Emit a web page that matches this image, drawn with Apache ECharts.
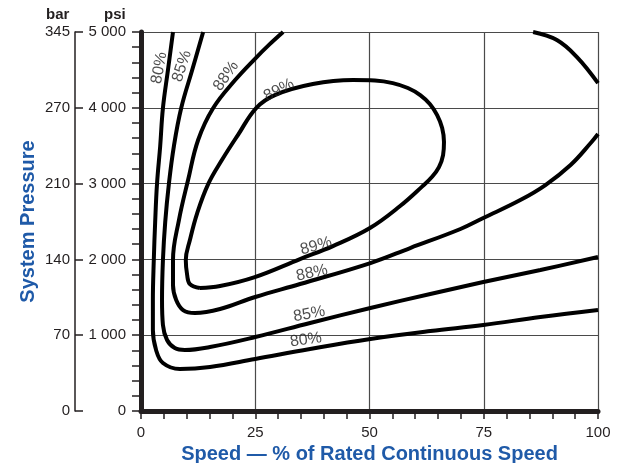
<!DOCTYPE html>
<html>
<head>
<meta charset="utf-8">
<script src="https://cdn.jsdelivr.net/npm/echarts@6/dist/echarts.min.js"></script>
<style>
  html, body { margin: 0; padding: 0; background: #fff; }
  #chart { width: 623px; height: 463px; }
</style>
</head>
<body>
<div id="chart"></div>
<script>
// axis labels
var psiLabels = ['0', '1 000', '2 000', '3 000', '4 000', '5 000'];
var barLabels = ['0', '70', '140', '210', '270', '345'];
var speedLabels = ['0', '25', '50', '75', '100'];

// efficiency contours: [speed %, pressure psi]
var curve80 = [[7.0,5000],[5.9,4498],[4.8,3997],[4.2,3495],[3.5,2994],[3.1,2493],[2.8,1992],[2.6,1464],[2.6,1068],
  [3.3,805],[4.8,633],[8.5,554],[15.1,580],[25.0,686],[37.0,818],[50.2,950],[63.3,1055],[74.9,1134],[87.4,1240],[100,1332]];
var curve85 = [[13.6,5000],[11.2,4498],[8.8,3997],[7.2,3495],[6.1,2994],[5.3,2493],[4.8,1992],[4.6,1464],[4.8,1134],
  [5.7,937],[7.4,831],[9.6,805],[15.1,844],[25.0,976],[37.0,1161],[50.2,1359],[63.3,1543],[74.9,1701],[87.4,1860],[100,2031]];
var curve88 = [[31.1,5000],[28.0,4830],[25.0,4650],[20.6,4366],[15.8,3997],[12.5,3575],[10.3,3047],[8.3,2519],[7.0,1992],
  [7.0,1662],[7.7,1464],[9.2,1332],[11.8,1293],[17.3,1345],[25.0,1504],[34.8,1675],[50.2,1952],[58.9,2150],[69.9,2401],
  [74.9,2546],[83.0,2783],[88.5,2981],[94.0,3245],[98.4,3535],[100,3654]];
var curve89 = [[12.9,1622],[10.7,1675],[10.1,1794],[9.8,1992],[10.7,2255],[12.3,2612],[14.7,2994],[17.7,3311],[21.2,3640],
  [25.2,3997],[29.3,4168],[37.6,4313],[46.4,4366],[51.2,4360],[55.1,4326],[58.4,4261],[61.1,4168],[63.2,4050],[64.8,3904],
  [65.9,3733],[66.3,3548],[66.1,3377],[65.2,3218],[63.7,3090],[61.5,2960],[56.7,2704],[50.1,2414],[42.0,2176],[34.8,2005],
  [24.9,1767],[17.3,1649],[12.9,1622]];
var curveTop = [[85.8,5000],[91.0,4894],[95.4,4669],[100,4326]];

// curve labels: [speed %, psi, text, angle]
var curveLabels = [
  [4.0, 4524, '80%', 80], [9.0, 4550, '85%', 72], [18.6, 4419, '88%', 55], [30.2, 4234, '89%', 27],
  [38.3, 2176, '89%', 15], [37.4, 1820, '88%', 12], [36.8, 1279, '85%', 10], [36.1, 937, '80%', 8]
];

var ink = '#231f20';
var blue = '#1f5aa8';
var font = "'Liberation Sans', Arial, sans-serif";

var chart = echarts.init(document.getElementById('chart'));

function contour(data) {
  return {
    type: 'line', data: data, showSymbol: false, symbol: 'none', smooth: 0.4,
    lineStyle: { color: '#000', width: 4 }, z: 3, silent: true
  };
}

var option = {
  backgroundColor: '#fff',
  animation: false,
  textStyle: { fontFamily: font },
  grid: { left: 141, right: 25, top: 32, bottom: 52, outerBoundsMode: 'none', containLabel: false },
  graphic: [
    { type: 'text', left: 46, top: 7, style: { text: 'bar', font: 'bold 15px ' + font, fill: ink } },
    { type: 'text', left: 104, top: 7, style: { text: 'psi', font: 'bold 15px ' + font, fill: ink } }
  ],
  xAxis: {
    type: 'value', min: 0, max: 100, interval: 25,
    name: 'Speed \u2014 % of Rated Continuous Speed', nameLocation: 'middle', nameGap: 31,
    nameTextStyle: { color: blue, fontSize: 20, fontWeight: 'bold', verticalAlign: 'top' },
    axisLine: { show: true, onZero: false, lineStyle: { color: ink, width: 5 } },
    axisTick: { show: true, length: 8, lineStyle: { color: ink, width: 1.5 } },
    minorTick: { show: true, splitNumber: 5, length: 8, lineStyle: { color: ink, width: 1.5 } },
    axisLabel: { margin: 14, fontSize: 15, color: ink,
      formatter: function (v) { return speedLabels[v / 25]; } },
    splitLine: { show: true, lineStyle: { color: '#4a4a4a', width: 1.2 } }
  },
  yAxis: [
    {
      type: 'value', min: 0, max: 5000, interval: 1000, position: 'left',
      axisLine: { show: true, onZero: false, lineStyle: { color: ink, width: 5 } },
      axisTick: { show: true, length: 9, lineStyle: { color: ink, width: 1.5 } },
      minorTick: { show: true, splitNumber: 5, length: 9, lineStyle: { color: ink, width: 1.5 } },
      axisLabel: { margin: 15, fontSize: 15, color: ink,
        formatter: function (v) { return psiLabels[v / 1000]; } },
      splitLine: { show: true, lineStyle: { color: '#4a4a4a', width: 1.2 } }
    },
    {
      type: 'value', min: 0, max: 5000, interval: 1000, position: 'left', offset: 66,
      name: 'System Pressure', nameLocation: 'middle', nameGap: 37, nameRotate: 90,
      nameMoveOverlap: false,
      nameTextStyle: { color: blue, fontSize: 20, fontWeight: 'bold' },
      axisLine: { show: true, onZero: false, lineStyle: { color: ink, width: 1.5 } },
      axisTick: { show: true, inside: true, length: 8, lineStyle: { color: ink, width: 1.5 } },
      axisLabel: { margin: 5, fontSize: 15, color: ink,
        formatter: function (v) { return barLabels[v / 1000]; } },
      splitLine: { show: false }
    }
  ],
  series: [
    contour(curve80), contour(curve85), contour(curve88), contour(curve89), contour(curveTop),
    {
      type: 'scatter', symbolSize: 2, itemStyle: { color: 'rgba(0,0,0,0)' }, silent: true, z: 4,
      data: curveLabels.map(function (d) {
        return { value: [d[0], d[1]], name: d[2], label: { rotate: d[3] } };
      }),
      label: { show: true, position: 'inside', formatter: '{b}', fontSize: 16, color: '#222', fontFamily: font }
    }
  ]
};

chart.setOption(option);
</script>
</body>
</html>
